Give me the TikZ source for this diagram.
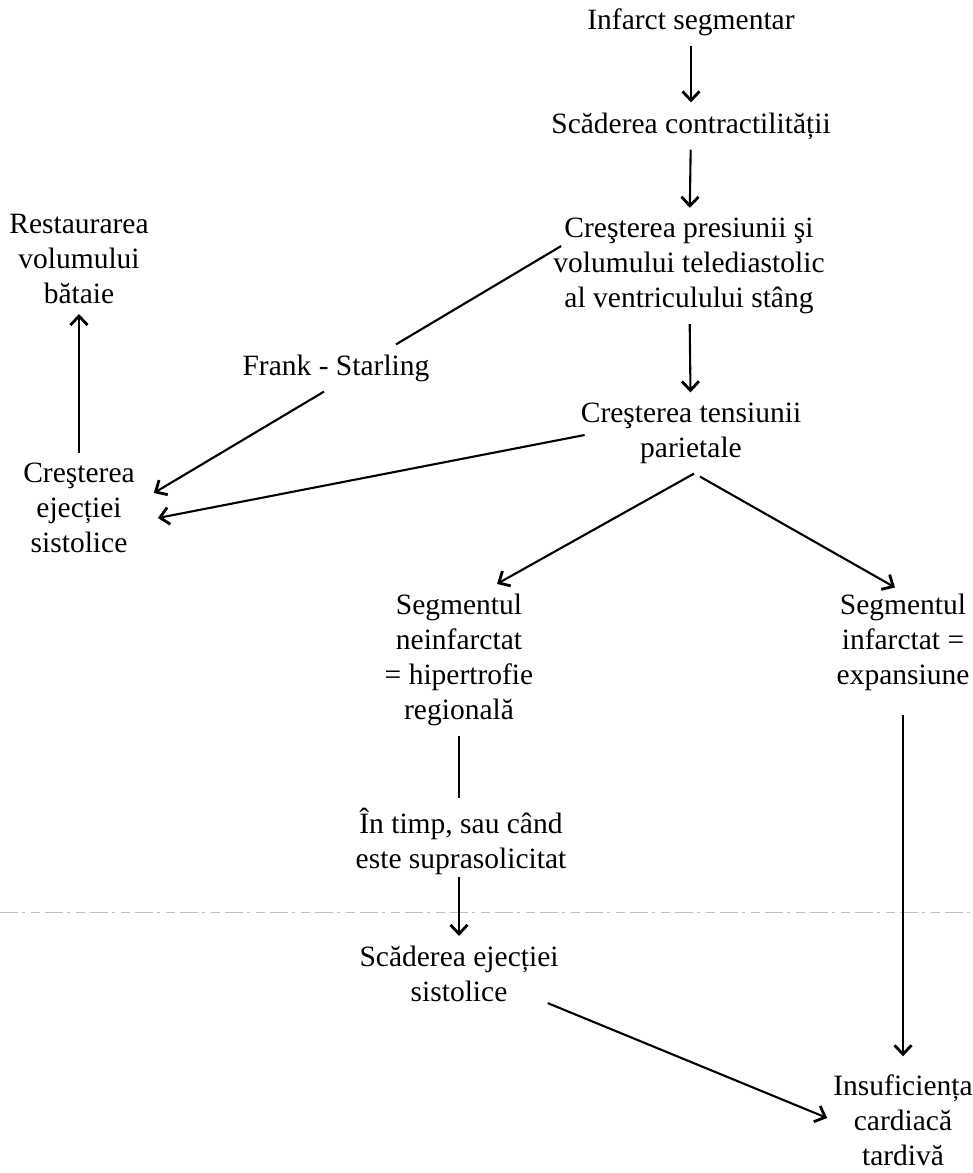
\documentclass[tikz,border=0pt]{standalone}
\usepackage{fontspec}
\setmainfont{Liberation Serif}
\usetikzlibrary{arrows.meta}
\tikzset{
 stage/.style={align=center,inner sep=10pt,font=\fontsize{29.5}{35}\selectfont},
 flow/.style={line width=2.1pt,-{Straight Barb[length=9pt,width=17pt,line width=2.8pt]}},
 link/.style={line width=2.1pt},
 fold/.style={gray!50,line width=.8pt,dash pattern=on 18pt off 4pt on 3pt off 6pt on 9pt off 5pt}
}
\begin{document}
\begin{tikzpicture}[x=1pt,y=-1pt]
\path[use as bounding box] (0,0) rectangle (973,1173);
% main column
\node[stage] (infarct) at (691,22) {Infarct segmentar};
\node[stage] (contract) at (691,126) {Scăderea contractilității};
\node[stage] (presiune) at (689,266) {Creşterea presiunii şi\\volumului telediastolic\\al ventriculului stâng};
\node[stage] (tensiune) at (691,433) {Creşterea tensiunii\\parietale};
% left side
\node[stage] (restaurare) at (79,259) {Restaurarea\\volumului\\bătaie};
\node[stage] (frank) at (336,368) {Frank - Starling};
\node[stage] (ejectie) at (79,508) {Creşterea\\ejecției\\sistolice};
% the two segments
\node[stage] (neinf) at (459,660) {Segmentul\\neinfarctat\\= hipertrofie\\regională};
\node[stage] (inf) at (903,642) {Segmentul\\infarctat =\\expansiune};
\node[stage] (intimp) at (461,841) {În timp, sau când\\este suprasolicitat};
\node[stage] (scadere) at (459,974) {Scăderea ejecției\\sistolice};
\node[stage] (insuf) at (903,1120) {Insuficiența\\cardiacă\\tardivă};
% fold of the page
\draw[fold] (0,912) -- (973,912);
\draw[flow] (infarct) -- (contract);
\draw[flow] (contract) -- (presiune);
\draw[flow] (presiune) -- (tensiune);
\draw[flow] (ejectie) -- (restaurare);
\draw[link] ([xshift=18pt,yshift=20pt]presiune.west) -- ([xshift=60pt]frank.north);
\draw[flow] ([xshift=-12pt]frank.south) -- ([xshift=9pt,yshift=15pt]ejectie.east);
\draw[flow] ([xshift=14pt,yshift=-2pt]tensiune.west) -- ([xshift=13pt,yshift=-10pt]ejectie.east);
\draw[flow] ([xshift=3pt]tensiune.south) -- ([xshift=38pt]neinf.north);
\draw[flow] ([xshift=9pt,yshift=-3pt]tensiune.south) -- ([xshift=-8pt,yshift=-4pt]inf.north);
\draw[link] (neinf) -- (intimp.north -| neinf);
\draw[flow,shorten <=-8pt] (intimp.south -| scadere) -- (scadere);
\draw[flow,shorten <=14pt,shorten >=8pt] (inf) -- (insuf);
\draw[flow] ([xshift=-21pt,yshift=9pt]scadere.south east) -- ([xshift=4pt,yshift=2pt]insuf.west);
\end{tikzpicture}
\end{document}
